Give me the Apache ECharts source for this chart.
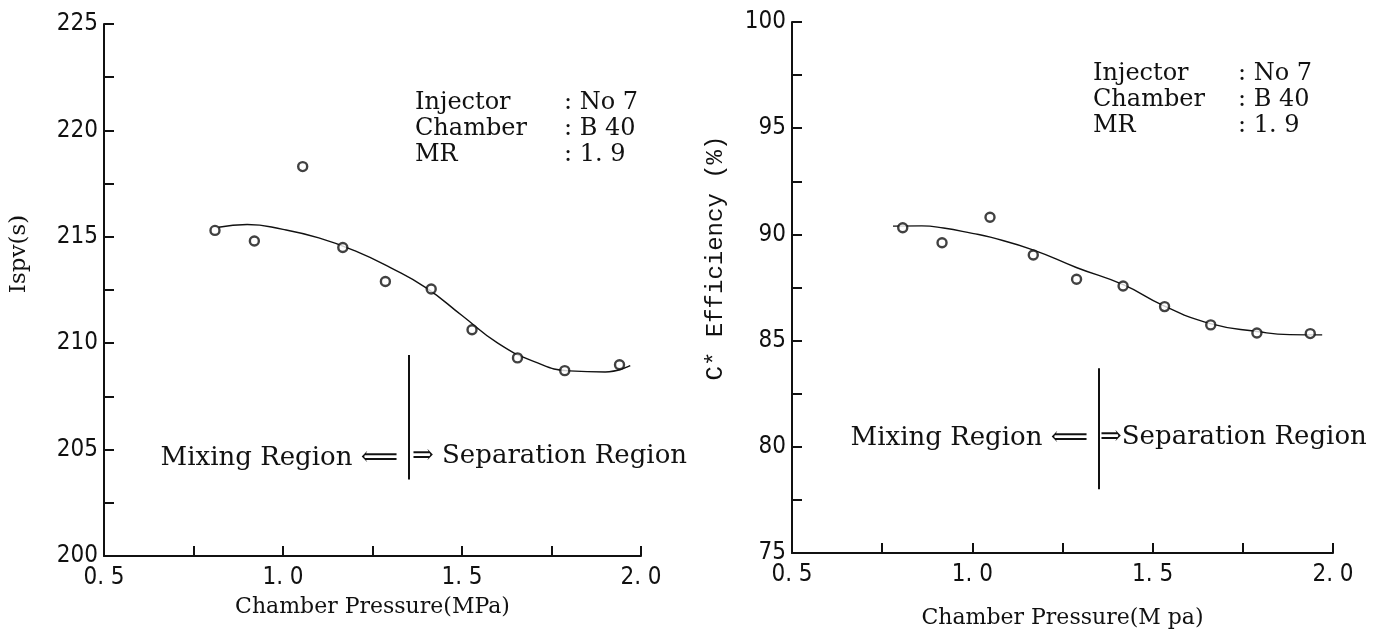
<!DOCTYPE html>
<html>
<head>
<meta charset="utf-8">
<script src="https://cdn.jsdelivr.net/npm/echarts@6/dist/echarts.min.js"></script>
<style>
  html, body { margin: 0; padding: 0; background: #fff; }
  #chart { width: 1397px; height: 637px; }
</style>
</head>
<body>
<div id="chart"></div>
<script>
// measured points (left: Isp, right: C* efficiency)
const ispvX = [0.81, 0.92, 1.055, 1.167, 1.286, 1.414, 1.528, 1.655, 1.787, 1.94]
const ispvY = [215.3, 214.8, 218.3, 214.5, 212.9, 212.55, 210.63, 209.31, 208.71, 208.99]
// fitted curve
const ispvFitX = [0.82, 0.90, 1.00, 1.10, 1.20, 1.30, 1.40, 1.50, 1.60, 1.70, 1.80, 1.90, 1.97]
const ispvFitY = [215.45, 215.58, 215.35, 214.95, 214.35, 213.55, 212.6, 211.3, 210.0, 209.15, 208.7, 208.65, 208.95]

const ceffX = [0.807, 0.916, 1.049, 1.169, 1.289, 1.418, 1.533, 1.661, 1.789, 1.937]
const ceffY = [90.31, 89.61, 90.81, 89.03, 87.89, 87.57, 86.6, 85.74, 85.36, 85.33]
const ceffFitX = [0.78, 0.86, 0.92, 1.00, 1.05, 1.17, 1.29, 1.42, 1.53, 1.66, 1.79, 1.88, 1.97]
const ceffFitY = [90.39, 90.4, 90.3, 90.05, 89.87, 89.26, 88.43, 87.62, 86.65, 85.8, 85.43, 85.28, 85.27]

// region boundary (x) and its vertical extent on each panel
const boundaryX = 1.35
const ispvBoundaryY = [209.45, 203.6]
const ceffBoundaryY = [83.7, 78.0]

const xRange = [0.5, 2.0]
const ispvRange = [200, 225]
const ceffRange = [75, 100]

const infoRows = [['Injector', ': No 7'], ['Chamber', ': B 40'], ['MR', ': 1. 9']]

const numFont = "'Liberation Sans Narrow', 'DejaVu Sans Condensed', 'Roboto', sans-serif"
const serifFont = "'DejaVu Serif', 'Liberation Serif', serif"
const monoFont = "'Liberation Mono', 'DejaVu Sans Mono', monospace"
const ink = '#111'

const pair = (xs, ys) => xs.map((x, i) => [x, ys[i]])

const makeX = (gridIndex, name, nameGap) => ({
  type: 'value', gridIndex,
  min: xRange[0], max: xRange[1], interval: 0.25,
  name, nameLocation: 'middle', nameGap,
  nameTextStyle: { fontFamily: serifFont, fontSize: 22, color: ink },
  axisLine: { lineStyle: { color: ink, width: 2 } },
  axisTick: { inside: true, length: 10, lineStyle: { color: ink, width: 2 } },
  axisLabel: {
    fontFamily: numFont, fontSize: 24, color: ink, margin: 10,
    formatter: v => (Math.abs(v * 2 - Math.round(v * 2)) < 1e-6 ? v.toFixed(1).replace('.', '. ') : '')
  },
  splitLine: { show: false },
})

const makeY = (gridIndex, range) => ({
  type: 'value', gridIndex,
  min: range[0], max: range[1], interval: 2.5,
  axisLine: { lineStyle: { color: ink, width: 2 } },
  axisTick: { inside: true, length: 10, lineStyle: { color: ink, width: 2 } },
  axisLabel: {
    fontFamily: numFont, fontSize: 24, color: ink, margin: 6,
    formatter: v => (v % 5 === 0 ? String(v) : '')
  },
  splitLine: { show: false },
})

const pointSeries = (idx, xs, ys) => ({
  type: 'scatter', xAxisIndex: idx, yAxisIndex: idx,
  data: pair(xs, ys),
  symbol: 'circle', symbolSize: 9,
  itemStyle: { color: '#fff', borderColor: ink, borderWidth: 2.4 },
  silent: true, z: 3,
})

const fitSeries = (idx, xs, ys, by) => ({
  type: 'line', xAxisIndex: idx, yAxisIndex: idx,
  data: pair(xs, ys),
  smooth: 0.5, showSymbol: false,
  lineStyle: { color: ink, width: 1.4 },
  silent: true, z: 2,
  markLine: {
    silent: true, symbol: 'none', label: { show: false },
    lineStyle: { color: ink, width: 2, type: 'solid' },
    data: [[{ coord: [boundaryX, by[0]] }, { coord: [boundaryX, by[1]] }]],
  },
})

const txt = (x, y, text, size, align, font, rotation) => ({
  type: 'text', x, y, rotation: rotation || 0,
  style: {
    text, fontFamily: font || serifFont, fontSize: size || 24, fill: ink,
    align: align || 'left', verticalAlign: 'middle'
  },
})

const infoBlock = (x0, xc, y0) => infoRows.flatMap((r, i) => [
  txt(x0, y0 + i * 26, r[0]),
  txt(xc, y0 + i * 26, r[1]),
])

const chart = echarts.init(document.getElementById('chart'))
chart.setOption({
  animation: false,
  backgroundColor: '#fff',
  grid: [
    { left: 104, top: 24, width: 537, height: 532 },
    { left: 792, top: 22, width: 541, height: 531 },
  ],
  xAxis: [makeX(0, 'Chamber Pressure(MPa)', 40), makeX(1, 'Chamber Pressure(M pa)', 54)],
  yAxis: [makeY(0, ispvRange), makeY(1, ceffRange)],
  series: [
    fitSeries(0, ispvFitX, ispvFitY, ispvBoundaryY),
    pointSeries(0, ispvX, ispvY),
    fitSeries(1, ceffFitX, ceffFitY, ceffBoundaryY),
    pointSeries(1, ceffX, ceffY),
  ],
  graphic: [
    txt(19, 254, 'Ispv(s)', 23, 'center', serifFont, Math.PI / 2),
    txt(716, 258, 'C* Efficiency (%)', 24, 'center', monoFont, Math.PI / 2),
    ...infoBlock(415, 564, 103),
    ...infoBlock(1093, 1238, 74),
    txt(398, 458, 'Mixing Region ⟸', 26, 'right'),
    txt(412, 456, '⇒ Separation Region', 26, 'left'),
    txt(1088, 438, 'Mixing Region ⟸', 26, 'right'),
    txt(1100, 437, '⇒Separation Region', 26, 'left'),
  ],
})
</script>
</body>
</html>
